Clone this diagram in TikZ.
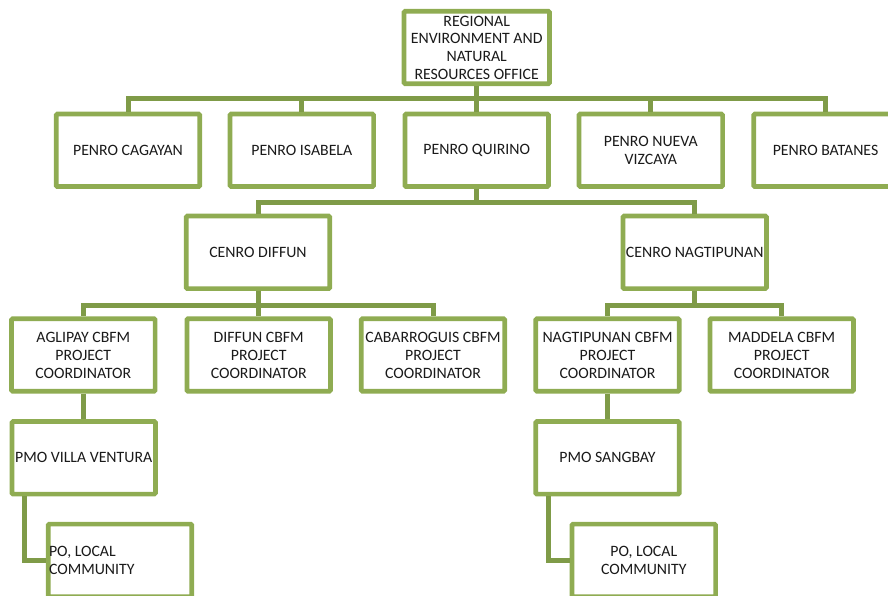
\documentclass[tikz,border=0pt]{standalone}
\usepackage{fontspec}
\setmainfont{Carlito}
\frenchspacing
\definecolor{boxgreen}{HTML}{8FAC52}
\definecolor{linegreen}{HTML}{7F9B48}
\definecolor{txt}{HTML}{1A1A1A}
\begin{document}
\begin{tikzpicture}[x=1pt,y=-1pt,
  box/.style={draw=boxgreen,line width=4.7pt,rounded corners=1.2pt,fill=white,
    minimum width=143.6pt,minimum height=72.6pt,inner sep=0pt,align=center,
    text=txt,font=\fontsize{15.8pt}{18pt}\selectfont},
  conn/.style={draw=linegreen,line width=5pt}]
\useasboundingbox (0,0) rectangle (888,596);
% bus levels
\coordinate (b1) at (0,99);
\coordinate (b2) at (0,202);
\coordinate (b3) at (0,305);
% nodes
\node[box,minimum width=145.5pt,font=\fontsize{15.8pt}{17.7pt}\selectfont] (reg) at (476.7,47.5) {REGIONAL\\ENVIRONMENT AND\\NATURAL\\RESOURCES OFFICE};
\node[box] (pc) at (128,150.3) {PENRO CAGAYAN};
\node[box] (pi) at (301.8,150.3) {PENRO ISABELA};
\node[box] (pq) at (476.7,150.3) {PENRO QUIRINO};
\node[box] (pn) at (650.8,150.3) {PENRO NUEVA\\VIZCAYA};
\node[box] (pb) at (825.5,150.3) {PENRO BATANES};
\node[box] (cd) at (258,252.3) {CENRO DIFFUN};
\node[box] (cn) at (694.7,252.3) {CENRO NAGTIPUNAN};
\node[box] (ag) at (83.3,355) {AGLIPAY CBFM\\PROJECT\\COORDINATOR};
\node[box] (df) at (258.7,355) {DIFFUN CBFM\\PROJECT\\COORDINATOR};
\node[box] (cb) at (433,355) {CABARROGUIS CBFM\\PROJECT\\COORDINATOR};
\node[box] (nc) at (607.5,355) {NAGTIPUNAN CBFM\\PROJECT\\COORDINATOR};
\node[box] (md) at (781.7,355) {MADDELA CBFM\\PROJECT\\COORDINATOR};
\node[box] (pv) at (83.7,457.8) {PMO VILLA VENTURA};
\node[box] (ps) at (607.5,457.8) {PMO SANGBAY};
\node[box,text width=142pt,align=flush left,font=\fontsize{15.8pt}{17.6pt}\selectfont] (po1) at (120,560.4) {PO, LOCAL\\COMMUNITY};
\node[box] (po2) at (643.8,560.4) {PO, LOCAL\\COMMUNITY};
% connectors
\foreach \c in {pc,pi,pq,pn,pb}
  \draw[conn] (reg.south) -- (reg.south |- b1) -| (\c.north);
\foreach \c in {cd,cn}
  \draw[conn] (pq.south) -- (pq.south |- b2) -| (\c.north);
\foreach \c in {ag,df,cb}
  \draw[conn] (cd.south) -- (cd.south |- b3) -| (\c.north);
\foreach \c in {nc,md}
  \draw[conn] (cn.south) -- (cn.south |- b3) -| (\c.north);
\draw[conn] (ag.south) -- (ag.south |- pv.north);
\draw[conn] (nc.south) -- (nc.south |- ps.north);
\draw[conn] ([xshift=14.6pt]pv.south west) |- (po1.west);
\draw[conn] ([xshift=15pt]ps.south west) |- (po2.west);
\end{tikzpicture}
\end{document}
